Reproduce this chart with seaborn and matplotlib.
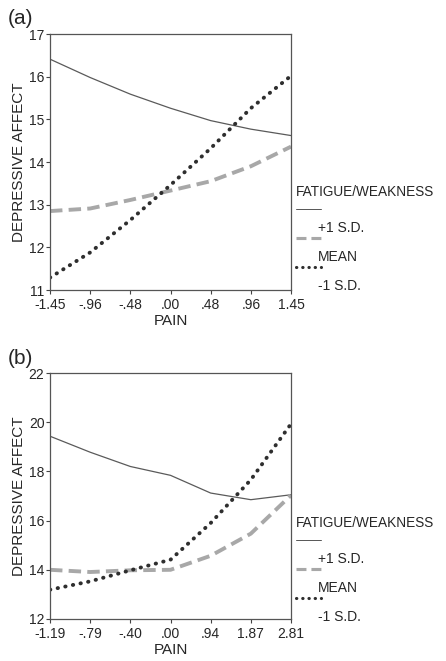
import numpy as np
import pandas as pd
import matplotlib.pyplot as plt
import seaborn as sns
from matplotlib.lines import Line2D

# panel (a)
pain_a = ['-1.45', '-.96', '-.48', '.00', '.48', '.96', '1.45']
plus_a = [16.41, 15.98, 15.59, 15.26, 14.97, 14.77, 14.62]
mean_a = [12.85, 12.91, 13.11, 13.33, 13.55, 13.90, 14.36]
minus_a = [11.29, 11.88, 12.64, 13.46, 14.32, 15.26, 16.02]

# panel (b)
pain_b = ['-1.19', '-.79', '-.40', '.00', '.94', '1.87', '2.81']
plus_b = [19.43, 18.78, 18.20, 17.84, 17.12, 16.85, 17.05]
mean_b = [14.00, 13.91, 13.98, 14.00, 14.57, 15.47, 17.03]
minus_b = [13.19, 13.53, 13.98, 14.41, 15.90, 17.66, 19.93]

groups = ['+1 S.D.', 'MEAN', '-1 S.D.']
styles = {
    '+1 S.D.': dict(color='#5a5a5a', lw=0.9, ls='-'),
    'MEAN': dict(color='#a8a8a8', lw=2.8, ls=(0, (3.2, 1.6))),
    '-1 S.D.': dict(color='#2e2e2e', lw=2.8, ls=(0, (0.1, 1.9)), dash_capstyle='round'),
}

sns.set_style('ticks')
plt.rcParams['font.family'] = ['Liberation Sans', 'DejaVu Sans']

fig = plt.figure(figsize=(4.46, 6.61), dpi=100)
W, H = 446, 661


def panel(rect, labels, series, yticks, tag, leg_top):
    ax = fig.add_axes([rect[0] / W, 1 - rect[3] / H, (rect[2] - rect[0]) / W, (rect[3] - rect[1]) / H])
    df = pd.DataFrame({'x': np.arange(len(labels))})
    for g, vals in zip(groups, series):
        df[g] = vals
    long = df.melt(id_vars='x', var_name='group', value_name='y')
    for g in groups:
        st = styles[g]
        sub = long[long['group'] == g]
        sns.lineplot(data=sub, x='x', y='y', ax=ax, color=st['color'],
                     linewidth=st['lw'], linestyle=st['ls'])
        if 'dash_capstyle' in st:
            ax.lines[-1].set_dash_capstyle('round')
    ax.set_xlim(0, len(labels) - 1)
    ax.set_ylim(yticks[0], yticks[-1])
    ax.set_xticks(np.arange(len(labels)))
    ax.set_xticklabels(labels)
    ax.set_yticks(yticks)
    ax.tick_params(labelsize=10, length=3, width=0.8, color='#444', pad=1)
    ax.tick_params(axis='x', pad=3)
    for s in ax.spines.values():
        s.set_visible(True)
        s.set_color('#555')
        s.set_linewidth(0.9)
    ax.set_xlabel('PAIN', fontsize=11, labelpad=1)
    ax.set_ylabel('DEPRESSIVE AFFECT', fontsize=11, labelpad=2)
    fig.text(8 / W, 1 - (rect[1] - 15) / H, tag, fontsize=15, va='center', ha='left')

    # legend to the right, handle on one row, label on the next
    x0 = 296 / W
    fig.text(x0, 1 - leg_top / H, 'FATIGUE/WEAKNESS', fontsize=9.8, va='center', ha='left')
    for i, g in enumerate(groups):
        st = styles[g]
        yh = 1 - (leg_top + 17 + i * 29) / H
        yl = 1 - (leg_top + 36 + i * 29) / H
        ln = Line2D([x0, x0 + 25 / W], [yh, yh], transform=fig.transFigure,
                    color=st['color'], linewidth=st['lw'] * 0.8, linestyle=st['ls'])
        if 'dash_capstyle' in st:
            ln.set_dash_capstyle('round')
        fig.add_artist(ln)
        fig.text(x0 + 22 / W, yl, g, fontsize=10, va='center', ha='left')
    return ax


panel((50, 34, 291, 290), pain_a, [plus_a, mean_a, minus_a], [11, 12, 13, 14, 15, 16, 17], '(a)', 192)
panel((50, 373, 291, 619), pain_b, [plus_b, mean_b, minus_b], [12, 14, 16, 18, 20, 22], '(b)', 523)

fig.savefig('out.png', dpi=100)
